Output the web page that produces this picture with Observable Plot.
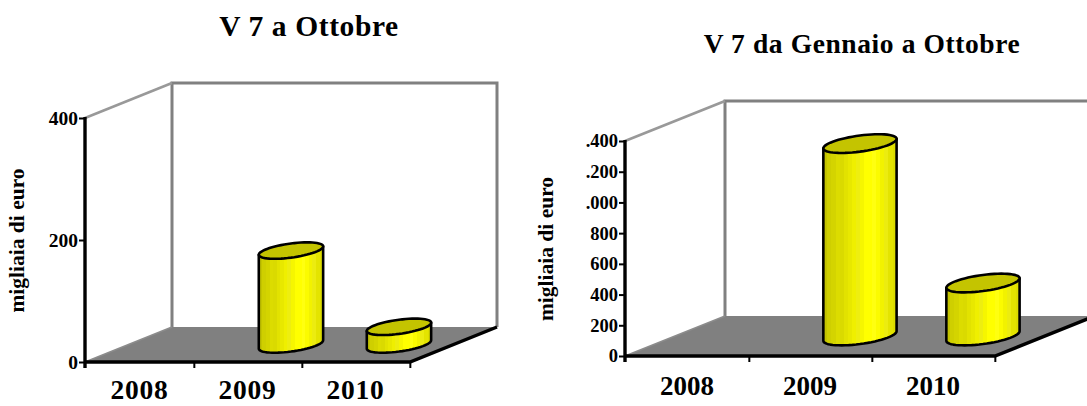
<!DOCTYPE html>
<html><head><meta charset="utf-8">
<script src="https://cdn.jsdelivr.net/npm/d3@7"></script>
<script src="https://cdn.jsdelivr.net/npm/@observablehq/plot@0.6"></script>
<style>
html,body{margin:0;padding:0;background:#fff;overflow:hidden;width:1087px;height:406px}
#wrap{position:relative;width:1087px;height:406px;overflow:hidden;font-family:"Liberation Serif",serif;font-weight:bold;color:#000}
.t{position:absolute;white-space:nowrap;transform:translateX(-50%);letter-spacing:.6px}
.c{position:absolute;top:0}
.c svg{overflow:visible;background:none;font-family:"Liberation Serif",serif;font-weight:bold}
.c:first-of-type g[aria-label="x-axis tick label"]{letter-spacing:.8px}
</style></head><body><div id="wrap"></div>
<script>
const years = ["2008","2009","2010"];
const octValues = [0,154,29];
const ytdValues = [0,1253,345];
const octTicks = [0,200,400];
const octTickLabels = ["0","200","400"];
const ytdTicks = [0,200,400,600,800,1000,1200,1400];
const ytdTickLabels = ["0","200","400","600","800",".000",".200",".400"];
const stripeColors = ["#c4c400","#cfcf00","#d4d400","#dcdc00","#dada00","#e2e200","#e8e800","#efef00","#eeee10","#f6f600","#ffff00","#ffff00","#ffff10","#fbfb00","#f2f200","#ecec10","#e4e400","#dddd00"];

function chart3d({width,mLeft,mRight,top,bottom,values,ticks,labels,ymax,dx,dy,id,tickFont,yearFont,labelOffset,labelFont}){
  const scene = (index,{x,y},_v,dim)=>{
    const NS="http://www.w3.org/2000/svg";
    const g=d3.select(document.createElementNS(NS,"g"));
    const x0=dim.marginLeft, x1=dim.width-dim.marginRight, y0=y(0), yT=y(ymax);
    const bw=(x1-x0)/years.length;
    const grad=g.append("defs").append("linearGradient").attr("id",id).attr("x1",0).attr("x2",1).attr("y1",0).attr("y2",0);
    stripeColors.forEach((c,i)=>{
      grad.append("stop").attr("offset",i/stripeColors.length).attr("stop-color",c);
      grad.append("stop").attr("offset",(i+1)/stripeColors.length).attr("stop-color",c);
    });
    // floor
    g.append("path").attr("d",`M${x0},${y0}L${x1},${y0}L${x1+dx},${y0+dy}L${x0+dx},${y0+dy}Z`).attr("fill","#808080");
    // back walls
    g.append("path").attr("d",`M${x0+dx},${y0+dy}V${yT+dy}H${x1+dx}V${y0+dy}`).attr("fill","none").attr("stroke","#808080").attr("stroke-width",3);
    g.append("path").attr("d",`M${x0},${yT}L${x0+dx},${yT+dy}`).attr("stroke","#999").attr("stroke-width",2.6);
    g.append("path").attr("d",`M${x0},${y0}L${x0+dx},${y0+dy}`).attr("stroke","#8c8c8c").attr("stroke-width",1.5);
    // cylinders
    years.forEach((yr,i)=>{
      if(!values[i]) return;
      const cx=x(yr)+bw/2+dx/2-0.7, hw=bw*0.297, s=hw*0.13, h=hw*0.22;
      const yTop=y(values[i])+dy/2, yBot=y0+dy/2;
      const pts=d3.range(0,361,6).map(a=>{const t=a*Math.PI/180;return [cx+hw*Math.cos(t),yTop-s*Math.cos(t)+h*Math.sin(t)];});
      const ptsB=d3.range(0,181,6).map(a=>{const t=a*Math.PI/180;return [cx+hw*Math.cos(t),yBot-s*Math.cos(t)+h*Math.sin(t)];});
      const bodyD="M"+ptsB.map(p=>p.join(",")).join("L")+`L${cx-hw},${yTop+s}L${cx+hw},${yTop-s}Z`;
      g.append("path").attr("d",bodyD).attr("fill",`url(#${id})`).attr("stroke","#000").attr("stroke-width",2.6).attr("stroke-linejoin","round");
      g.append("path").attr("d","M"+pts.map(p=>p.join(",")).join("L")+"Z").attr("fill","#c4c400").attr("stroke","#000").attr("stroke-width",2.6);
    });
    // front axes
    g.append("path").attr("d",`M${x0},${yT-1}V${y0+6}`).attr("stroke","#000").attr("stroke-width",3.4).attr("fill","none");
    g.append("path").attr("d",`M${x0},${y0}H${x1}L${x1+dx},${y0+dy}`).attr("stroke","#000").attr("stroke-width",3.4).attr("fill","none");
    years.forEach((yr,i)=>{
      const tx=x(yr)+bw;
      g.append("line").attr("x1",tx).attr("x2",tx).attr("y1",y0).attr("y2",y0+6).attr("stroke","#000").attr("stroke-width",2);
    });
    return g.node();
  };
  return Plot.plot({
    width,height:406,marginLeft:mLeft,marginRight:mRight,marginTop:top,marginBottom:406-bottom,
    x:{type:"band",domain:years,padding:0,axis:null},
    y:{domain:[0,ymax],axis:null},
    marks:[
      scene,
      Plot.axisY({ticks,tickFormat:d=>labels[ticks.indexOf(d)],tickSize:6,tickPadding:1.5,strokeWidth:2,stroke:"#000",fill:"#000",fontSize:tickFont,label:null}),
      Plot.axisX({tickSize:0,tickPadding:labelOffset,fill:"#000",fontSize:yearFont,label:null,dx:-1}),
      Plot.text(["migliaia di euro"],{frameAnchor:"left",textAnchor:"middle",dx:labelFont.dx,rotate:-90,fontSize:labelFont.size,fill:"#000"})
    ]
  });
}
const wrap=document.getElementById("wrap");
function place(node,left){const d=document.createElement("div");d.className="c";d.style.left=left+"px";d.appendChild(node);wrap.appendChild(d);}
place(chart3d({width:530,mLeft:85,mRight:120,top:118,bottom:362,values:octValues,ticks:octTicks,labels:octTickLabels,ymax:400,dx:87,dy:-35,id:"g1",tickFont:19.5,yearFont:27.5,labelOffset:17,labelFont:{dx:-68,size:21.5}}),0);
place(chart3d({width:557,mLeft:95,mRight:92,top:141,bottom:356,values:ytdValues,ticks:ytdTicks,labels:ytdTickLabels,ymax:1400,dx:100,dy:-40,id:"g2",tickFont:18.5,yearFont:27,labelOffset:19,labelFont:{dx:-79,size:21.5}}),530);
function title(txt,cx,y,size){const d=document.createElement("div");d.className="t";d.textContent=txt;d.style.left=cx+"px";d.style.top=y+"px";d.style.fontSize=size+"px";wrap.appendChild(d);}
title("V 7 a Ottobre",309,10,29.5);
title("V 7 da Gennaio a Ottobre",862,28,27.5);
</script></body></html>
